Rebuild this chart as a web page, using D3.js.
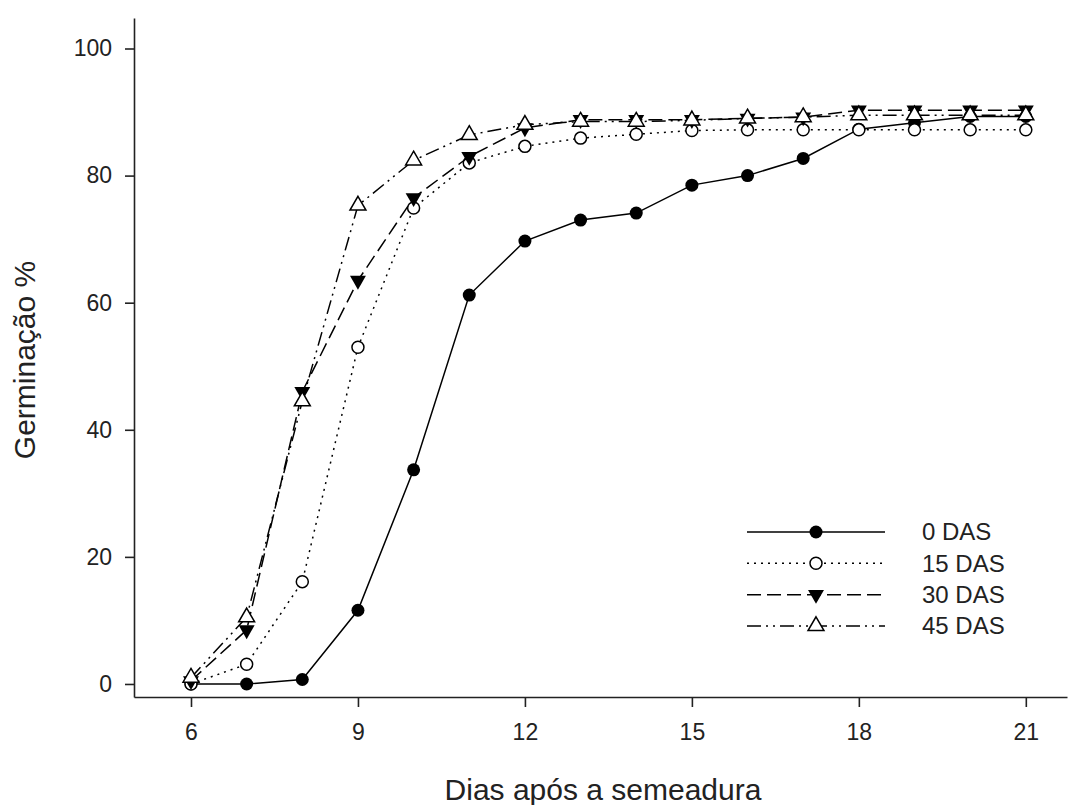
<!DOCTYPE html>
<html>
<head>
<meta charset="utf-8">
<script src="https://cdn.jsdelivr.net/npm/d3@7"></script>
<style>
  body { margin: 0; background: #fff; }
  svg { font-family: "Liberation Sans", Arial, sans-serif; }
</style>
</head>
<body>
<div id="chart"></div>
<script>
const days = [6, 7, 8, 9, 10, 11, 12, 13, 14, 15, 16, 17, 18, 19, 20, 21];
const das0  = [0, 0, 0.7, 11.6, 33.7, 61.2, 69.7, 73.0, 74.1, 78.5, 80.0, 82.7, 87.3, 88.3, 89.3, 89.3];
const das15 = [0, 3.1, 16.1, 53.0, 74.9, 82.0, 84.6, 85.9, 86.5, 87.1, 87.2, 87.2, 87.2, 87.2, 87.2, 87.2];
const das30 = [0.5, 8.5, 46.0, 63.5, 76.5, 83.0, 87.5, 88.8, 88.8, 88.8, 89.0, 89.2, 90.3, 90.3, 90.3, 90.3];
const das45 = [1.0, 10.5, 44.5, 75.3, 82.4, 86.4, 88.0, 88.5, 88.5, 88.7, 89.0, 89.2, 89.5, 89.5, 89.5, 89.5];
const seriesNames = ["0 DAS", "15 DAS", "30 DAS", "45 DAS"];
const xTicks = [6, 9, 12, 15, 18, 21];
const yTicks = [0, 20, 40, 60, 80, 100];

const W = 1069, H = 805;

const x = d3.scaleLinear().domain([4.976, 21.74]).range([134, 1067]);
const y = d3.scaleLinear().domain([-2.05, 104.8]).range([697, 18]);

const svg = d3.select("#chart").append("svg")
  .attr("width", W)
  .attr("height", H);

// axes
const xAxis = svg.append("g")
  .attr("transform", `translate(0,${y(-2.05)})`)
  .call(d3.axisBottom(x).tickValues(xTicks).tickSize(10).tickSizeOuter(0).tickPadding(17));
const yAxis = svg.append("g")
  .attr("transform", `translate(${x(4.976)},0)`)
  .call(d3.axisLeft(y).tickValues(yTicks).tickSize(9).tickSizeOuter(0).tickPadding(13));

[xAxis, yAxis].forEach(g => {
  g.attr("font-size", null).attr("font-family", null);
  g.select(".domain").attr("stroke", "#222").attr("stroke-width", 1.6);
  g.selectAll(".tick line").attr("stroke", "#222").attr("stroke-width", 1.6);
  g.selectAll(".tick text").attr("fill", "#222").style("font-size", "23px");
});

svg.append("text")
  .attr("x", 603).attr("y", 800)
  .attr("text-anchor", "middle")
  .attr("fill", "#222")
  .style("font-size", "30px")
  .text("Dias após a semeadura");

svg.append("text")
  .attr("transform", `translate(35,360) rotate(-90)`)
  .attr("text-anchor", "middle")
  .attr("fill", "#222")
  .style("font-size", "30px")
  .text("Germinação %");

const series = [
  { name: seriesNames[0], values: das0,  dash: null,               marker: "circleFilled" },
  { name: seriesNames[1], values: das15, dash: "2,5",              marker: "circleOpen" },
  { name: seriesNames[2], values: das30, dash: "14,6",             marker: "triDown" },
  { name: seriesNames[3], values: das45, dash: "14,5,2,5,2,5",     marker: "triUp" }
];

const line = d3.line().x((d, i) => x(days[i])).y(d => y(d));

function drawMarker(g, type, cx, cy) {
  if (type === "circleFilled") {
    g.append("circle").attr("cx", cx).attr("cy", cy).attr("r", 6.5).attr("fill", "#000");
  } else if (type === "circleOpen") {
    g.append("circle").attr("cx", cx).attr("cy", cy).attr("r", 6)
      .attr("fill", "#fff").attr("stroke", "#000").attr("stroke-width", 1.5);
  } else if (type === "triDown") {
    g.append("path").attr("d", d3.symbol(d3.symbolTriangle, 110)())
      .attr("transform", `translate(${cx},${cy}) rotate(180)`)
      .attr("fill", "#000");
  } else {
    g.append("path").attr("d", d3.symbol(d3.symbolTriangle, 110)())
      .attr("transform", `translate(${cx},${cy})`)
      .attr("fill", "#fff").attr("stroke", "#000").attr("stroke-width", 1.5);
  }
}

series.forEach(s => {
  svg.append("path")
    .datum(s.values)
    .attr("d", line)
    .attr("fill", "none")
    .attr("stroke", "#000")
    .attr("stroke-width", 1.5)
    .attr("stroke-dasharray", s.dash);
  const g = svg.append("g");
  s.values.forEach((v, i) => drawMarker(g, s.marker, x(days[i]), y(v)));
});

// legend
const legend = svg.append("g");
const legendRow = d3.scaleLinear().domain([0, 3]).range([532, 626]);
series.forEach((s, i) => {
  const ly = legendRow(i);
  legend.append("line")
    .attr("x1", 747).attr("x2", 885).attr("y1", ly).attr("y2", ly)
    .attr("stroke", "#000").attr("stroke-width", 1.5)
    .attr("stroke-dasharray", s.dash);
  drawMarker(legend, s.marker, 816, ly);
  legend.append("text")
    .attr("x", 922).attr("y", ly).attr("dy", "0.35em")
    .attr("fill", "#222")
    .style("font-size", "24px")
    .text(s.name);
});
</script>
</body>
</html>
